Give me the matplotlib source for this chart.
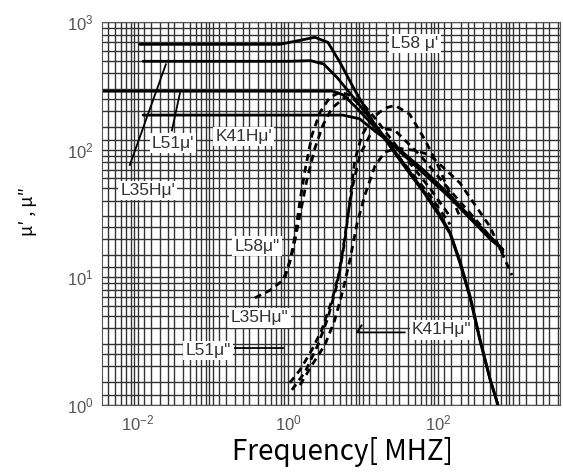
import matplotlib
matplotlib.use("Agg")
import matplotlib.pyplot as plt
from matplotlib.ticker import LogLocator, NullFormatter, FixedLocator

# --- mu' curves (solid) : frequency [MHz], permeability ---
l58_mu1_f = [0.0106, 0.78, 1.45, 2.29, 3.41, 4.94, 7.8, 14.5, 31, 67, 106, 145, 196, 267, 363, 494, 631]
l58_mu1_v = [671, 671, 722, 762, 696, 485, 293, 156, 83, 45, 30, 22, 13, 7, 3.2, 1.6, 1.0]

l35h_mu1_f = [0.0117, 1.0, 2.0, 3.0, 4.5, 7.0, 14.5, 31, 67, 106, 145, 196, 267, 363, 494, 631]
l35h_mu1_v = [494, 494, 500, 470, 370, 270, 158, 86, 46, 31, 22.5, 13.5, 7.2, 3.3, 1.6, 1.0]

l51_mu1_f = [0.0033, 4.0, 5.4, 7.8, 14.5, 31, 67, 145, 267, 494, 736]
l51_mu1_v = [288, 288, 270, 220, 150, 97, 64, 42, 29, 20, 16.5]

k41h_mu1_f = [0.0117, 5.4, 9.0, 14.5, 31, 67, 145, 267, 494, 736]
k41h_mu1_v = [187, 187, 175, 140, 100, 68, 44, 30, 21, 16.5]

# --- mu'' curves (dashed) ---
l58_mu2_f = [0.363, 0.575, 0.86, 1.06, 1.24, 1.45, 1.69, 2.09, 2.67, 3.63, 4.94, 6.71, 9.1, 14.5, 31, 78, 145]
l58_mu2_v = [6.9, 7.9, 9.5, 13.2, 21, 40, 69, 130, 196, 258, 282, 268, 223, 156, 86, 44, 26]

l58_mu2b_f = [0.91, 1.17, 1.45, 1.79, 2.29, 2.93, 3.86, 5.75, 9.1, 14.5, 31, 78, 145]
l58_mu2b_v = [9.9, 16.4, 31, 58, 103, 156, 212, 258, 245, 177, 99, 50, 30]

l35h_mu2_f = [1.06, 1.45, 2.09, 2.84, 3.86, 4.94, 5.75, 6.71, 7.8, 9.7, 13.2, 19.7, 26.7, 42, 67, 106, 145, 196]
l35h_mu2_v = [1.49, 1.88, 2.7, 3.9, 6.6, 11.4, 19.6, 40, 83, 130, 177, 212, 223, 190, 120, 70, 45, 30]

l51_mu2_f = [1.13, 1.69, 2.51, 3.41, 4.5, 5.41, 6.31, 7.36, 9.1, 12.4, 16.9, 26.7, 57.5, 145, 363, 782]
l51_mu2_v = [1.31, 1.81, 2.95, 4.8, 8.7, 16.4, 31, 53, 91, 130, 148, 142, 91, 48, 26, 15]

k41h_mu2_f = [1.45, 2.09, 3.11, 4.2, 5.41, 6.71, 8.3, 10.6, 14.5, 19.7, 29, 49, 78, 196, 494, 970]
k41h_mu2_v = [1.43, 2.05, 2.95, 4.6, 7.9, 13.7, 26, 44, 75, 96, 103, 99, 91, 55, 25, 10.4]

# pointer lines from labels to curves
ptr_l35h_f = [0.0078, 0.0236]
ptr_l35h_v = [76, 468]
ptr_l51_f = [0.0284, 0.0363]
ptr_l51_v = [142, 277]
ptr_l51b_f = [0.196, 0.86]
ptr_l51b_v = [2.8, 2.8]
ptr_k41b_f = [36, 8.3, 9.6]
ptr_k41b_v = [3.7, 3.7, 4.2]

labels = ["L58 μ'", "L51μ'", "K41Hμ'", "L35Hμ'", 'L58μ"', 'L35Hμ"', 'L51μ"', 'K41Hμ"']
label_f = [49.4, 0.0293, 0.259, 0.0136, 0.386, 0.423, 0.0858, 113]
label_v = [684, 113, 128, 48.3, 17.6, 4.8, 2.65, 3.87]

fig = plt.figure(figsize=(5.63, 4.73), dpi=100)
ax = fig.add_axes([0.181, 0.144, 0.814, 0.809])
ax.set_xscale("log")
ax.set_yscale("log")
ax.set_xlim(10 ** -2.48, 10 ** 3.63)
ax.set_ylim(1, 1000)

subs = [1.0, 1.2, 1.5, 2.0, 2.5, 3.0, 4.0, 5.0, 6.0, 7.0, 8.0, 9.0]
ax.xaxis.set_minor_locator(LogLocator(base=10, subs=subs, numticks=30))
ax.yaxis.set_minor_locator(LogLocator(base=10, subs=subs, numticks=30))
ax.xaxis.set_minor_formatter(NullFormatter())
ax.yaxis.set_minor_formatter(NullFormatter())
ax.xaxis.set_major_locator(FixedLocator([1e-2, 1e0, 1e2]))
ax.yaxis.set_major_locator(FixedLocator([1e0, 1e1, 1e2, 1e3]))
ax.grid(True, which="both", color="#333333", lw=1.0)
ax.tick_params(which="both", length=0, pad=6, labelsize=12, labelcolor="#555555")
for lab in ax.get_xticklabels() + ax.get_yticklabels():
    lab.set_family("Liberation Sans")
for s in ax.spines.values():
    s.set_color("#555555")

solid = dict(color="black", lw=2.0, solid_capstyle="round")
dashed = dict(color="black", lw=2.0, ls=(0, (2.5, 1.8)))

ax.plot(l58_mu1_f, l58_mu1_v, **solid)
ax.plot(l35h_mu1_f, l35h_mu1_v, **solid)
ax.plot(l51_mu1_f, l51_mu1_v, **solid)
ax.plot(k41h_mu1_f, k41h_mu1_v, **solid)

ax.plot(l58_mu2_f, l58_mu2_v, **dashed)
ax.plot(l58_mu2b_f, l58_mu2b_v, **dashed)
ax.plot(l35h_mu2_f, l35h_mu2_v, **dashed)
ax.plot(l51_mu2_f, l51_mu2_v, **dashed)
ax.plot(k41h_mu2_f, k41h_mu2_v, **dashed)

ax.plot(ptr_l35h_f, ptr_l35h_v, color="black", lw=1.3)
ax.plot(ptr_l51_f, ptr_l51_v, color="black", lw=1.3)
ax.plot(ptr_l51b_f, ptr_l51b_v, color="black", lw=1.3)
ax.plot(ptr_k41b_f, ptr_k41b_v, color="black", lw=1.3)

for t, f, v in zip(labels, label_f, label_v):
    ax.text(f, v, t, ha="center", va="center", fontsize=12.5, family="Liberation Sans",
            color="#333333",
            bbox=dict(boxstyle="square,pad=0.12", facecolor="white", edgecolor="none"))

fam = ["Noto Sans CJK SC", "DejaVu Sans"]
fig.text(0.609, 0.044, "Frequency[ MHZ]", ha="center", va="center", fontsize=20, family=fam)
fig.text(0.05, 0.552, "μ′ , μ″", rotation=90, ha="center", va="center", fontsize=13, family=fam)

fig.savefig("out.png", dpi=100, facecolor="white")
